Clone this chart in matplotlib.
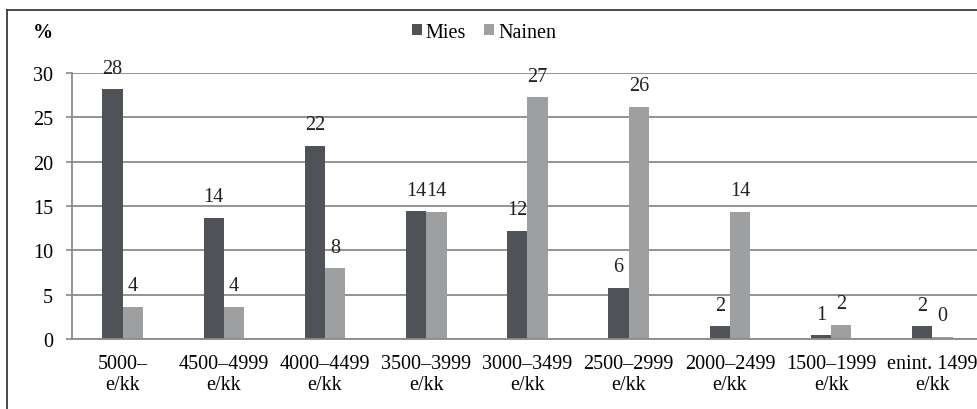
import matplotlib
matplotlib.use("Agg")
import matplotlib.pyplot as plt
import numpy as np
from matplotlib.patches import Patch
from matplotlib.lines import Line2D
from matplotlib import font_manager

categories = ["5000–\ne/kk", "4500–4999\ne/kk", "4000–4499\ne/kk", "3500–3999\ne/kk",
              "3000–3499\ne/kk", "2500–2999\ne/kk", "2000–2499\ne/kk", "1500–1999\ne/kk",
              "enint. 1499\ne/kk"]
mies = [28.2, 13.7, 21.8, 14.4, 12.2, 5.8, 1.45, 0.45, 1.45]
nainen = [3.65, 3.65, 8.0, 14.35, 27.3, 26.2, 14.35, 1.6, 0.25]
mies_labels = ["28", "14", "22", "14", "12", "6", "2", "1", "2"]
nainen_labels = ["4", "4", "8", "14", "27", "26", "14", "2", "0"]
yticks = [0, 5, 10, 15, 20, 25, 30]

plt.rcParams['font.family'] = 'serif'
plt.rcParams['font.serif'] = ['Liberation Serif', 'Times New Roman', 'DejaVu Serif']
FS = 14.5
c_m = "#4f5256"
c_n = "#9d9fa0"
grid_c = "#8a8a8a"

fig = plt.figure(figsize=(9.78, 4.10), dpi=100)
ax = fig.add_axes([72/978, 70/410, 911/978, 266/410])

x = np.arange(len(categories))
w = 0.2
ax.bar(x - w/2, mies, width=w, color=c_m, zorder=3)
ax.bar(x + w/2, nainen, width=w, color=c_n, zorder=3)

off = 2.35
for xi, v, lab in zip(x, mies, mies_labels):
    ax.text(xi - w/2, v + off, lab, ha='center', va='center', fontsize=FS, color='#222222', zorder=4)
for xi, v, lab in zip(x, nainen, nainen_labels):
    ax.text(xi + w/2, v + off, lab, ha='center', va='center', fontsize=FS, color='#222222', zorder=4)

ax.set_xlim(-0.5, len(categories) - 0.5)
ax.set_ylim(0, 30)
ax.set_yticks(yticks)
ax.set_yticklabels([str(t) for t in yticks], fontsize=FS)
ax.set_xticks(x)
ax.set_xticklabels(categories, fontsize=FS, linespacing=1.1)
ax.tick_params(axis='x', length=0, pad=11)
ax.tick_params(axis='y', length=4.5, width=1.2, color=grid_c, pad=9)
ax.yaxis.grid(True, color=grid_c, linewidth=1.3, zorder=0)
ax.set_axisbelow(True)
for s in ['top', 'right']:
    ax.spines[s].set_visible(False)
for s in ['left', 'bottom']:
    ax.spines[s].set_color(grid_c)
    ax.spines[s].set_linewidth(1.3)
ax.spines['bottom'].set_zorder(5)

fig.text(33/978, 1 - 33/410, "%", fontsize=FS, fontweight='bold', ha='left', va='center')

handles = [Patch(facecolor=c_m, edgecolor='none', label='Mies'),
           Patch(facecolor=c_n, edgecolor='none', label='Nainen')]
fig.legend(handles=handles, loc='center', bbox_to_anchor=(484/978, 1 - 33/410), ncol=2,
           frameon=False, fontsize=FS, handlelength=0.5, handleheight=0.5,
           handletextpad=0.2, columnspacing=0.9, borderpad=0)

# outer frame (top and left edges visible)
fig.add_artist(Line2D([7/978, 7/978], [-0.05, 1 - 11/410], transform=fig.transFigure,
                      color='#3a3a3a', linewidth=1.3))
fig.add_artist(Line2D([7/978, 1.05], [1 - 11/410, 1 - 11/410], transform=fig.transFigure,
                      color='#3a3a3a', linewidth=1.3))

fig.savefig("out.png", dpi=100)
